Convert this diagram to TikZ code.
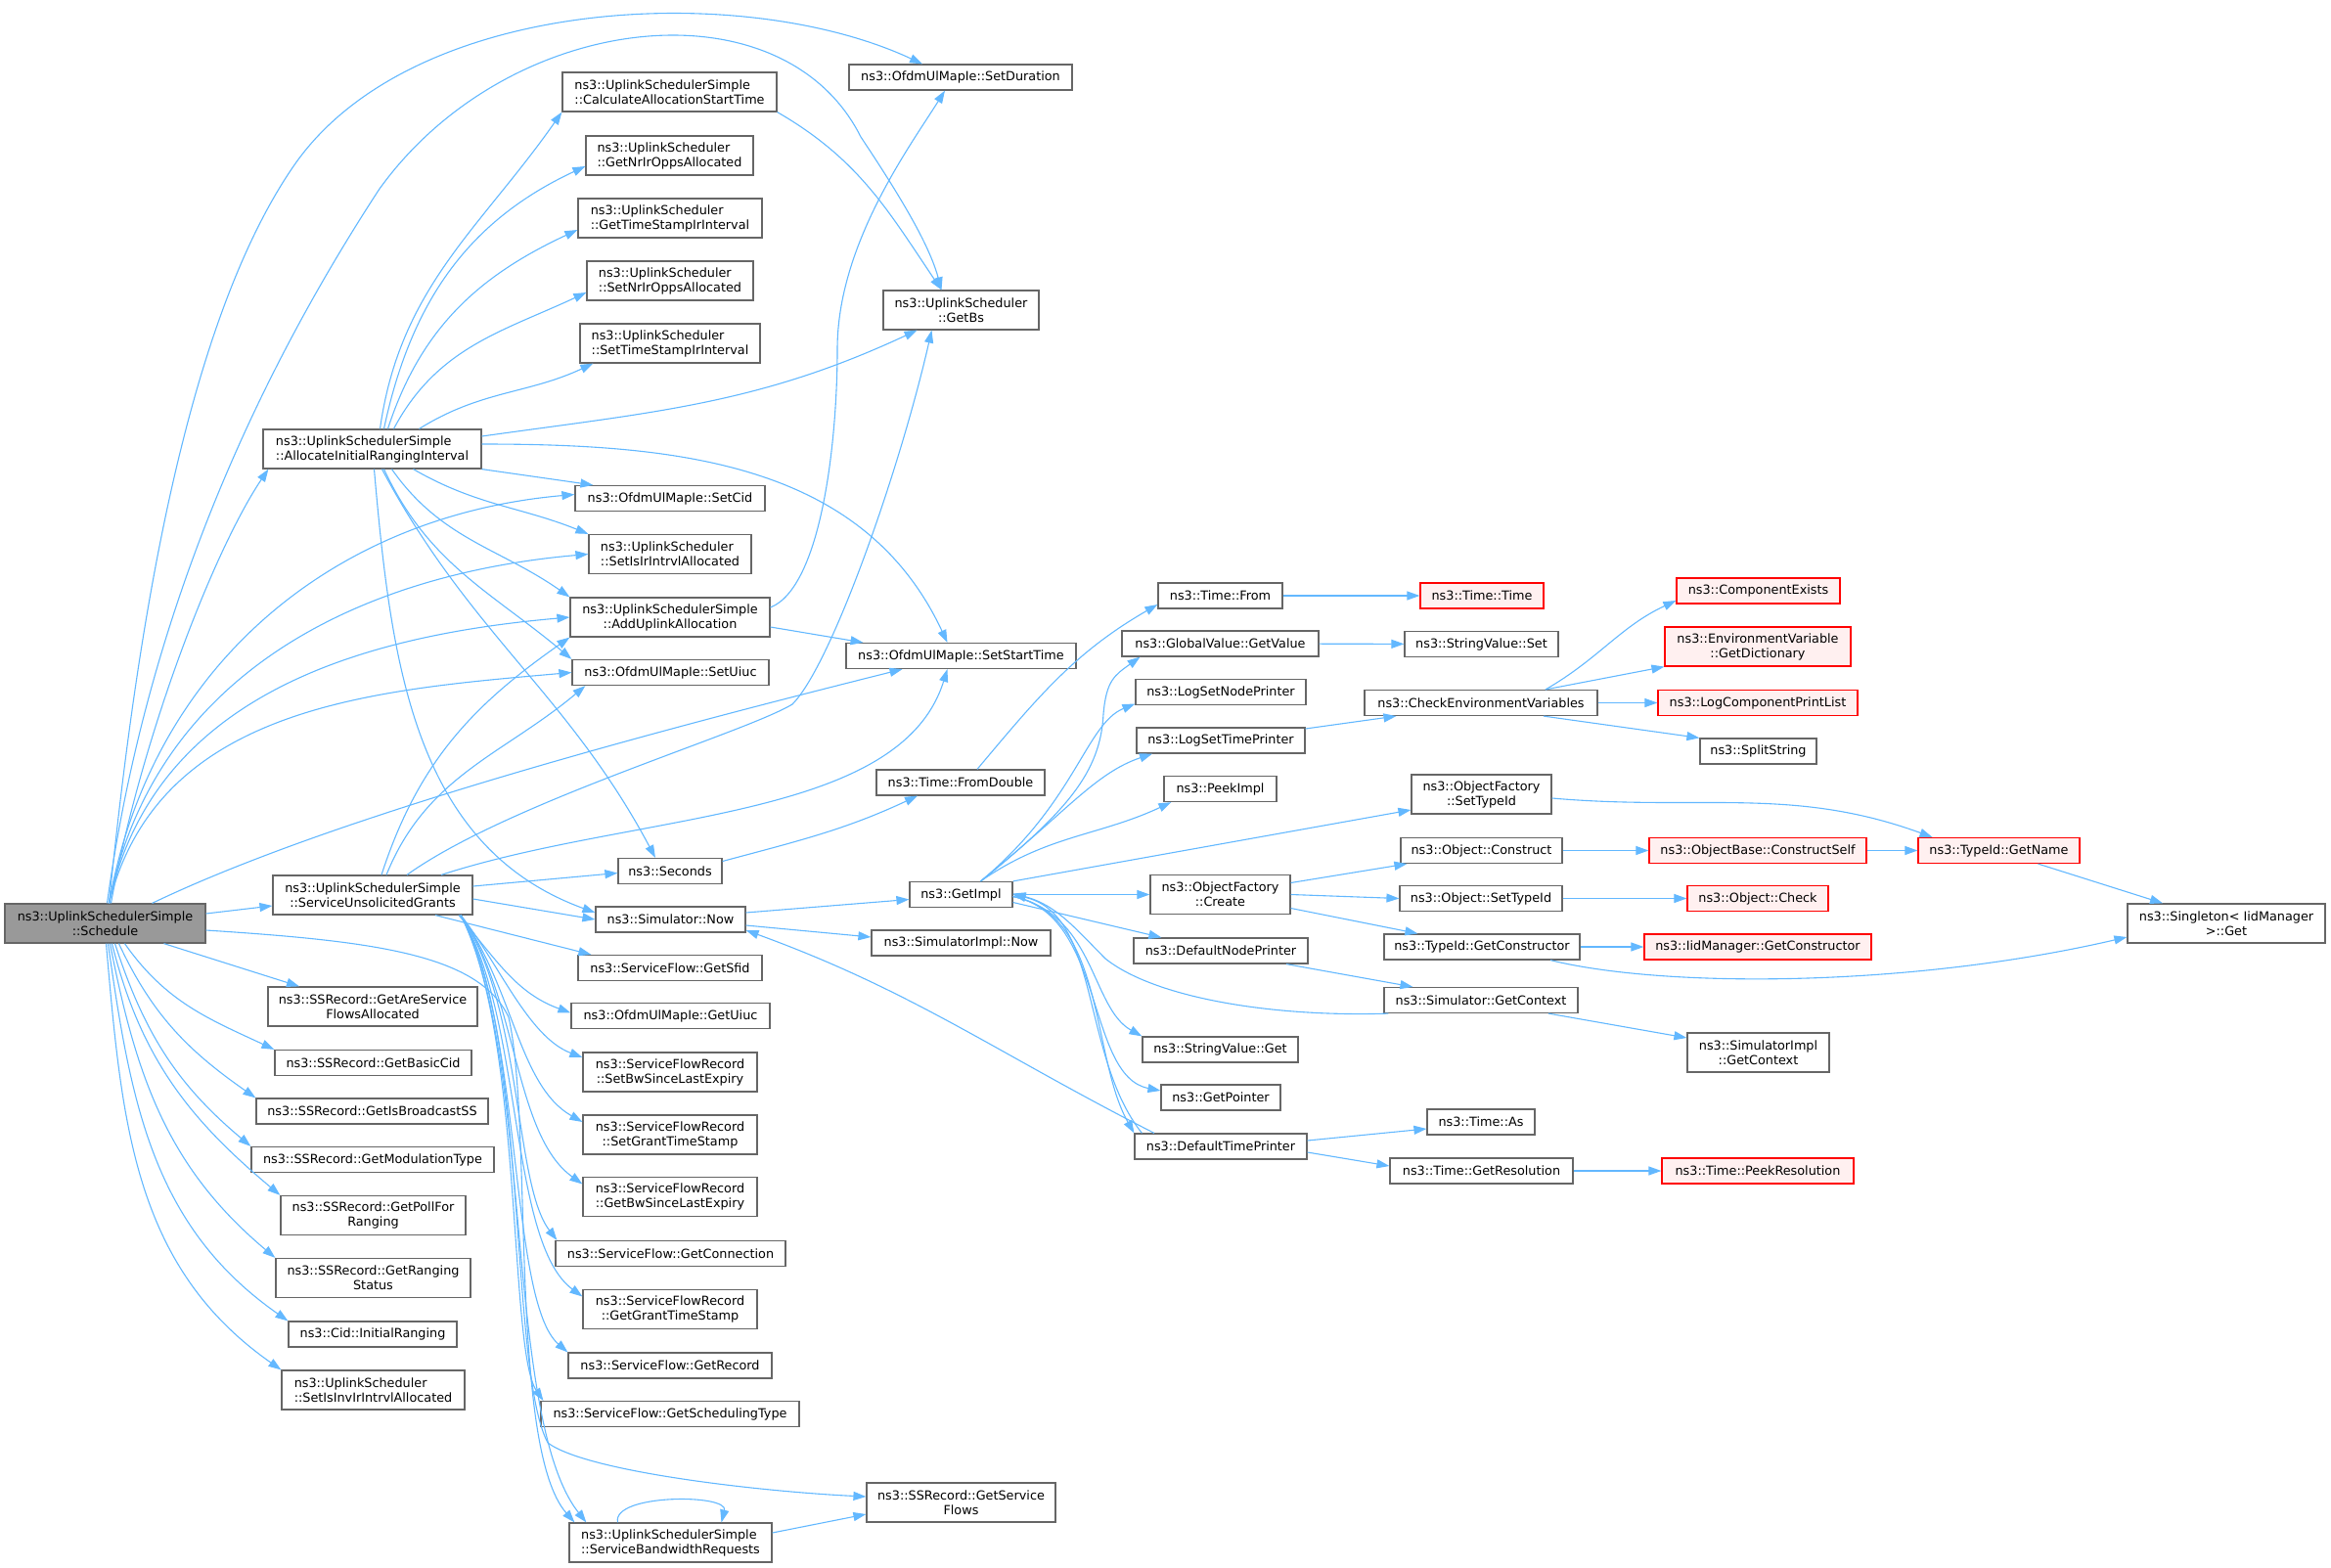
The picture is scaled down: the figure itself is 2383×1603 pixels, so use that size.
\documentclass[tikz,border=0pt]{standalone}
\usepackage{fontspec}
\setmainfont{DejaVu Sans}
\usetikzlibrary{arrows.meta}
\definecolor{edgeblue}{HTML}{63B8FF}
\definecolor{boxgray}{HTML}{666666}
\definecolor{rootfill}{HTML}{999999}
\definecolor{redline}{HTML}{FF0000}
\definecolor{redfill}{HTML}{FFF0F0}
\tikzset{
  fn/.style={draw=boxgray, fill=white, line width=1.2pt, inner xsep=2pt, inner ysep=0pt,
    minimum height=26pt, font=\fontsize{12.8}{15}\selectfont},
  fnl/.style={fn, minimum height=40pt, align=left},
  fnc/.style={fn, minimum height=40pt, align=center},
  fnroot/.style={fnc, fill=rootfill},
  fnred/.style={fn, draw=redline, fill=redfill},
  fnredc/.style={fnc, draw=redline, fill=redfill},
  call/.style={draw=edgeblue, line width=1.1pt, -{Triangle[length=13pt,width=9pt]}},
}

\begin{document}
\begin{tikzpicture}[x=1pt,y=-1pt]
           \useasboundingbox (0,0) rectangle (2383,1603);
           \node[fnroot, minimum width=205pt] (sched) at (107.5,944) {ns3::UplinkSchedulerSimple\\::Schedule};
           \node[fnl, minimum width=223pt] (alloc) at (380.5,459) {ns3::UplinkSchedulerSimple\\::AllocateInitialRangingInterval};
           \node[fnc, minimum width=204pt] (unsol) at (381,915) {ns3::UplinkSchedulerSimple\\::ServiceUnsolicitedGrants};
           \node[fnc, minimum width=214pt] (getare) at (381,1029) {ns3::SSRecord::GetAreService\\FlowsAllocated};
           \node[fn, minimum width=201pt] (getbasic) at (381.5,1086.5) {ns3::SSRecord::GetBasicCid};
           \node[fn, minimum width=237pt] (getisbc) at (380.5,1136) {ns3::SSRecord::GetIsBroadcastSS};
           \node[fn, minimum width=248pt] (getmod) at (381,1185.5) {ns3::SSRecord::GetModulationType};
           \node[fnc, minimum width=189pt] (getpoll) at (381.5,1242.5) {ns3::SSRecord::GetPollFor\\Ranging};
           \node[fnc, minimum width=199pt] (getrang) at (381.5,1306.5) {ns3::SSRecord::GetRanging\\Status};
           \node[fn, minimum width=172pt] (initrang) at (381,1364) {ns3::Cid::InitialRanging};
           \node[fnl, minimum width=187pt] (setisinv) at (381.5,1421) {ns3::UplinkScheduler\\::SetIsInvIrIntrvlAllocated};

           \node[fnl, minimum width=219pt] (calc) at (684.5,94) {ns3::UplinkSchedulerSimple\\::CalculateAllocationStartTime};
           \node[fnl, minimum width=171pt] (getnr) at (684.5,159) {ns3::UplinkScheduler\\::GetNrIrOppsAllocated};
           \node[fnl, minimum width=188pt] (getts) at (685,223) {ns3::UplinkScheduler\\::GetTimeStampIrInterval};
           \node[fnl, minimum width=170pt] (setnr) at (685,287) {ns3::UplinkScheduler\\::SetNrIrOppsAllocated};
           \node[fnl, minimum width=184pt] (setts) at (685,351) {ns3::UplinkScheduler\\::SetTimeStampIrInterval};
           \node[fn, minimum width=194pt] (setcid) at (685,509.5) {ns3::OfdmUlMapIe::SetCid};
           \node[fnl, minimum width=166pt] (setisir) at (685,566.5) {ns3::UplinkScheduler\\::SetIsIrIntrvlAllocated};
           \node[fnc, minimum width=204pt] (addup) at (685,631) {ns3::UplinkSchedulerSimple\\::AddUplinkAllocation};
           \node[fn, minimum width=201pt] (setuiuc) at (685.5,687.5) {ns3::OfdmUlMapIe::SetUiuc};
           \node[fn, minimum width=106pt] (seconds) at (685,890.5) {ns3::Seconds};
           \node[fn, minimum width=153pt] (simnow) at (685.5,940) {ns3::Simulator::Now};
           \node[fn, minimum width=188pt] (getsfid) at (685,989.5) {ns3::ServiceFlow::GetSfid};
           \node[fn, minimum width=203pt] (getuiuc) at (685.5,1038.5) {ns3::OfdmUlMapIe::GetUiuc};
           \node[fnc, minimum width=178pt] (setbw) at (685,1096) {ns3::ServiceFlowRecord\\::SetBwSinceLastExpiry};
           \node[fnc, minimum width=178pt] (setgrant) at (685,1160) {ns3::ServiceFlowRecord\\::SetGrantTimeStamp};
           \node[fnc, minimum width=178pt] (getbw) at (685,1223.5) {ns3::ServiceFlowRecord\\::GetBwSinceLastExpiry};
           \node[fn, minimum width=235pt] (getconn) at (685.5,1281.5) {ns3::ServiceFlow::GetConnection};
           \node[fnc, minimum width=178pt] (getgrant) at (685,1338.5) {ns3::ServiceFlowRecord\\::GetGrantTimeStamp};
           \node[fn, minimum width=208pt] (getrec) at (685,1396) {ns3::ServiceFlow::GetRecord};
           \node[fn, minimum width=264pt] (getschedt) at (685,1445.5) {ns3::ServiceFlow::GetSchedulingType};
           \node[fnl, minimum width=207pt] (bwreq) at (685.5,1577) {ns3::UplinkSchedulerSimple\\::ServiceBandwidthRequests};

           \node[fn, minimum width=228pt] (setdur) at (982,79) {ns3::OfdmUlMapIe::SetDuration};
           \node[fnc, minimum width=159pt] (getbs) at (982.5,317) {ns3::UplinkScheduler\\::GetBs};
           \node[fn, minimum width=235pt] (setstart) at (982.5,670.5) {ns3::OfdmUlMapIe::SetStartTime};
           \node[fn, minimum width=172pt] (fromdbl) at (982,800) {ns3::Time::FromDouble};
           \node[fn, minimum width=105pt] (getimpl) at (982.5,914.5) {ns3::GetImpl};
           \node[fn, minimum width=183pt] (simimplnow) at (982.5,964) {ns3::SimulatorImpl::Now};
           \node[fnc, minimum width=193pt] (getsf) at (982.5,1536) {ns3::SSRecord::GetService\\Flows};

           \node[fn, minimum width=127pt] (timefrom) at (1247.5,609) {ns3::Time::From};
           \node[fn, minimum width=201pt] (gvget) at (1247.5,658) {ns3::GlobalValue::GetValue};
           \node[fn, minimum width=174pt] (lognode) at (1248,707.5) {ns3::LogSetNodePrinter};
           \node[fn, minimum width=172pt] (logtime) at (1248,757) {ns3::LogSetTimePrinter};
           \node[fn, minimum width=115pt] (peek) at (1247.5,806.5) {ns3::PeekImpl};
           \node[fnc, minimum width=143pt] (ofcreate) at (1247.5,914.5) {ns3::ObjectFactory\\::Create};
           \node[fn, minimum width=178pt] (defnode) at (1248,972) {ns3::DefaultNodePrinter};
           \node[fn, minimum width=159pt] (svget) at (1247.5,1073) {ns3::StringValue::Get};
           \node[fn, minimum width=122pt] (getptr) at (1248,1122) {ns3::GetPointer};
           \node[fn, minimum width=176pt] (deftime) at (1248,1172) {ns3::DefaultTimePrinter};

           \node[fnred, minimum width=126pt] (timetime) at (1515,609) {ns3::Time::Time};
           \node[fn, minimum width=157pt] (svset) at (1514.5,658.5) {ns3::StringValue::Set};
           \node[fn, minimum width=238pt] (checkenv) at (1514,718.5) {ns3::CheckEnvironmentVariables};
           \node[fnc, minimum width=143pt] (ofsettype) at (1514.5,812) {ns3::ObjectFactory\\::SetTypeId};
           \node[fn, minimum width=165pt] (objconstr) at (1514.5,869.5) {ns3::Object::Construct};
           \node[fn, minimum width=166pt] (objsettype) at (1514,918.5) {ns3::Object::SetTypeId};
           \node[fn, minimum width=200pt] (getctor) at (1515,968) {ns3::TypeId::GetConstructor};
           \node[fn, minimum width=198pt] (simctx) at (1514,1022.5) {ns3::Simulator::GetContext};
           \node[fn, minimum width=110pt] (timeas) at (1514,1147) {ns3::Time::As};
           \node[fn, minimum width=187pt] (getres) at (1514.5,1197) {ns3::Time::GetResolution};

           \node[fnred, minimum width=167pt] (compex) at (1797.5,604) {ns3::ComponentExists};
           \node[fnredc, minimum width=190pt] (envdict) at (1797,661) {ns3::EnvironmentVariable\\::GetDictionary};
           \node[fnred, minimum width=204pt] (logcomp) at (1797,718.5) {ns3::LogComponentPrintList};
           \node[fn, minimum width=119pt] (split) at (1797.5,768) {ns3::SplitString};
           \node[fnred, minimum width=222pt] (ctorself) at (1797,869.5) {ns3::ObjectBase::ConstructSelf};
           \node[fnred, minimum width=144pt] (objcheck) at (1797,918.5) {ns3::Object::Check};
           \node[fnred, minimum width=232pt] (iidctor) at (1797,968) {ns3::IidManager::GetConstructor};
           \node[fnc, minimum width=145pt] (simimplctx) at (1797.5,1076) {ns3::SimulatorImpl\\::GetContext};
           \node[fnred, minimum width=196pt] (peekres) at (1797,1197) {ns3::Time::PeekResolution};
           \node[fnred, minimum width=165pt] (getname) at (2043.5,869.5) {ns3::TypeId::GetName};
           \node[fnc, minimum width=202pt] (singleton) at (2276,944) {ns3::Singleton< IidManager\\ >::Get};

           \draw[call] ([xshift=4pt]sched.north) .. controls (140,640) and (190,330) .. (300,170) .. controls (420,-5) and (760,-20) .. ([xshift=-39pt]setdur.north);
           \draw[call] ([xshift=2pt]sched.north) .. controls (140,700) and (220,450) .. (388,193) .. controls (520,10) and (800,-20) .. (880,140) .. controls (920,200) and (950,250) .. ([xshift=-20pt]getbs.north);
           \draw[call] ([xshift=6pt]sched.north) .. controls (145,750) and (220,560) .. ([xshift=6pt]alloc.south west);
           \draw[call] ([xshift=4pt]sched.north) to[out=80,in=185] ([yshift=4pt]setcid.west);
           \draw[call] ([xshift=4pt]sched.north) to[out=79,in=185] (setisir.west);
           \draw[call] ([xshift=4pt]sched.north) to[out=78,in=185] (addup.west);
           \draw[call] ([xshift=4pt]sched.north) to[out=76,in=185] (setuiuc.west);
           \draw[call] ([xshift=48pt]sched.north) .. controls (350,830) and (700,740) .. ([xshift=-60pt]setstart.south);
           \draw[call] ([yshift=10pt]sched.east) -- ([yshift=-11pt]unsol.west);
           \draw[call] ([yshift=-7pt]sched.east) .. controls (380,962) and (490,975) .. (520,1040) .. controls (545,1150) and (520,1480) .. ([xshift=6pt]bwreq.north west);
           \draw[call] ([xshift=60pt]sched.south) -- ([xshift=-75pt]getare.north);
           \draw[call] ([xshift=20pt]sched.south) to[out=-55,in=155] (getbasic.north west);
           \draw[call] ([xshift=14pt]sched.south) to[out=-65,in=145] (getisbc.north west);
           \draw[call] ([xshift=10pt]sched.south) to[out=-72,in=140] (getmod.north west);
           \draw[call] ([xshift=7pt]sched.south) to[out=-76,in=140] (getpoll.north west);
           \draw[call] ([xshift=5pt]sched.south) to[out=-79,in=140] (getrang.north west);
           \draw[call] ([xshift=3pt]sched.south) to[out=-82,in=145] (initrang.north west);
           \draw[call] ([xshift=1pt]sched.south) to[out=-85,in=145] (setisinv.north west);

           \draw[call] ([xshift=8pt]alloc.north) to[out=82,in=235] (calc.south west);
           \draw[call] ([xshift=12pt]alloc.north) to[out=78,in=205] ([yshift=-11pt]getnr.west);
           \draw[call] ([xshift=16pt]alloc.north) to[out=72,in=205] ([yshift=-12pt]getts.west);
           \draw[call] ([xshift=22pt]alloc.north) to[out=62,in=205] ([yshift=-12pt]setnr.west);
           \draw[call] ([xshift=48pt]alloc.north) to[out=32,in=205] ([xshift=14pt]setts.south west);
           \draw[call] ([yshift=13pt]alloc.east) to[out=8,in=205] ([xshift=-45pt]getbs.south);
           \draw[call] ([yshift=5pt]alloc.east) to[out=0,in=115] ([xshift=-14pt]setstart.north);
           \draw[call] (alloc.south east) -- ([xshift=19pt]setcid.north west);
           \draw[call] ([xshift=42pt]alloc.south) to[out=-30,in=158] (setisir.north west);
           \draw[call] ([xshift=20pt]alloc.south) to[out=-55,in=145] (addup.north west);
           \draw[call] ([xshift=12pt]alloc.south) to[out=-65,in=140] (setuiuc.north west);
           \draw[call] ([xshift=10pt]alloc.south) to[out=-62,in=118] ([xshift=-15pt]seconds.north);
           \draw[call] ([xshift=2pt]alloc.south) to[out=-85,in=160] ([yshift=7pt]simnow.west);
           \draw[call] (calc.south east) to[out=-30,in=124] ([xshift=-20pt]getbs.north);

           \draw[call] ([yshift=10pt]addup.east) .. controls (840,600) and (856,450) .. (856,357) .. controls (856,250) and (930,150) .. ([xshift=-16pt]setdur.south);
           \draw[call] ([yshift=-10pt]addup.east) -- ([xshift=-100pt]setstart.north);

           \draw[call] ([xshift=9pt]unsol.north) to[out=72,in=215] (addup.south west);
           \draw[call] ([xshift=14pt]unsol.north) to[out=68,in=220] ([xshift=14pt]setuiuc.south west);
           \draw[call] ([xshift=35pt]unsol.north) .. controls (520,820) and (760,750) .. (810,720) .. controls (850,680) and (920,480) .. ([xshift=-30pt]getbs.south);
           \draw[call] ([xshift=70pt]unsol.north) .. controls (650,830) and (920,840) .. ([xshift=-14pt]setstart.south);
           \draw[call] ([yshift=9pt]unsol.east) -- ([yshift=-2pt]seconds.west);
           \draw[call] ([yshift=-4pt]unsol.east) -- (simnow.west);
           \draw[call] ([xshift=64pt]unsol.south) -- ([xshift=14pt]getsfid.north west);
           \draw[call] ([xshift=88pt]unsol.south) to[out=-50,in=160] ([yshift=3pt]getuiuc.west);
           \draw[call] ([xshift=90pt]unsol.south) .. controls (510,985) and (540,1060) .. ([yshift=15pt]setbw.west);
           \draw[call] ([xshift=90pt]unsol.south) .. controls (525,1010) and (530,1110) .. ([yshift=13pt]setgrant.west);
           \draw[call] ([xshift=90pt]unsol.south) .. controls (530,1020) and (525,1160) .. ([yshift=13pt]getbw.west);
           \draw[call] ([xshift=90pt]unsol.south) .. controls (535,1030) and (525,1210) .. ([xshift=2pt]getconn.north west);
           \draw[call] ([xshift=90pt]unsol.south) .. controls (535,1040) and (520,1270) .. ([yshift=13pt]getgrant.west);
           \draw[call] ([xshift=90pt]unsol.south) .. controls (535,1050) and (520,1330) .. (getrec.north west);
           \draw[call] ([xshift=90pt]unsol.south) .. controls (535,1060) and (520,1380) .. ([xshift=3pt]getschedt.north west);
           \draw[call] ([xshift=90pt]unsol.south) .. controls (540,1050) and (520,1400) .. (560,1475) .. controls (600,1505) and (780,1525) .. ([yshift=6pt]getsf.west);
           \draw[call] ([xshift=90pt]unsol.south) .. controls (545,1080) and (515,1450) .. ([xshift=18pt]bwreq.north west);
           \draw[call] ([xshift=-54pt]bwreq.north) .. controls (625,1527) and (745,1527) .. ([xshift=52pt]bwreq.north);
           \draw[call] ([yshift=10pt]bwreq.east) -- ([yshift=-12pt]getsf.west);

           \draw[call] ([yshift=10pt]seconds.east) to[out=15,in=205] ([xshift=-44pt]fromdbl.south);
           \draw[call] ([xshift=17pt]fromdbl.north) to[out=50,in=210] ([yshift=-9pt]timefrom.west);
           \draw[call] (timefrom) -- (timetime);
           \draw[call] (gvget) -- (svset);
           \draw[call] ([yshift=7pt]simnow.east) -- ([yshift=-5pt]getimpl.west);
           \draw[call] ([yshift=-6pt]simnow.east) -- ([yshift=6pt]simimplnow.west);
           \draw[call] ([xshift=-68pt]deftime.north) to[out=153,in=-20] ([yshift=-11pt]simnow.east);

           \draw[call] ([xshift=20pt]getimpl.north) .. controls (1090,830) and (1125,790) .. (1128,730) .. controls (1131,695) and (1140,690) .. ([xshift=-82pt]gvget.south);
           \draw[call] ([xshift=20pt]getimpl.north) .. controls (1100,820) and (1110,740) .. ([yshift=-12pt]lognode.west);
           \draw[call] ([xshift=20pt]getimpl.north) .. controls (1090,830) and (1120,790) .. ([xshift=-70pt]logtime.south);
           \draw[call] ([xshift=20pt]getimpl.north) to[out=35,in=205] ([xshift=8pt]peek.south west);
           \draw[call] (getimpl.north east) -- ([yshift=-16pt]ofsettype.west);
           \draw[call] (getimpl) -- (ofcreate);
           \draw[call] ([yshift=-8pt]getimpl.east) -- ([xshift=29pt]defnode.north west);
           \draw[call] ([yshift=-2pt]getimpl.east) .. controls (1120,935) and (1115,1030) .. (svget.north west);
           \draw[call] ([yshift=-2pt]getimpl.east) .. controls (1130,935) and (1110,1100) .. ([yshift=7pt]getptr.west);
           \draw[call] ([yshift=-2pt]getimpl.east) .. controls (1130,935) and (1115,1080) .. (deftime.north west);
           \draw[call] ([xshift=8pt]deftime.north west) .. controls (1105,1080) and (1125,935) .. (getimpl.east);
           \draw[call] ([xshift=5pt]simctx.south west) .. controls (1300,1040) and (1180,1020) .. (1130,980) .. controls (1100,950) and (1080,925) .. ([yshift=1pt]getimpl.east);

           \draw[call] ([xshift=67pt]defnode.south) -- ([xshift=30pt]simctx.north west);
           \draw[call] ([yshift=12pt]ofcreate.east) -- ([xshift=7pt]objconstr.south west);
           \draw[call] (ofcreate.east) -- (objsettype.west);
           \draw[call] ([yshift=-14pt]ofcreate.east) -- ([xshift=35pt]getctor.north west);
           \draw[call] ([yshift=12pt]logtime.east) -- ([xshift=33pt]checkenv.south west);
           \draw[call] ([xshift=66pt]checkenv.north) to[out=30,in=205] ([yshift=-10pt]compex.west);
           \draw[call] ([xshift=66pt]checkenv.north) -- (envdict.south west);
           \draw[call] (checkenv) -- (logcomp);
           \draw[call] ([xshift=64pt]checkenv.south) -- (split.north west);
           \draw[call] ([yshift=-4pt]ofsettype.east) to[out=-5,in=160] ([xshift=-68pt]getname.north);
           \draw[call] (objconstr) -- (ctorself);
           \draw[call] (ctorself) -- (getname);
           \draw[call] (objsettype) -- (objcheck);
           \draw[call] (getctor) -- (iidctor);
           \draw[call] ([xshift=70pt]getctor.south) .. controls (1700,1010) and (1950,1010) .. ([yshift=-14pt]singleton.west);
           \draw[call] ([xshift=40pt]getname.south) -- ([xshift=-65pt]singleton.north);
           \draw[call] ([xshift=69pt]simctx.south) -- ([yshift=15pt]simimplctx.west);
           \draw[call] ([yshift=6pt]deftime.east) -- ([yshift=-7pt]timeas.west);
           \draw[call] ([yshift=-6pt]deftime.east) -- ([yshift=5pt]getres.west);
           \draw[call] (getres) -- (peekres);
\end{tikzpicture}
\end{document}
